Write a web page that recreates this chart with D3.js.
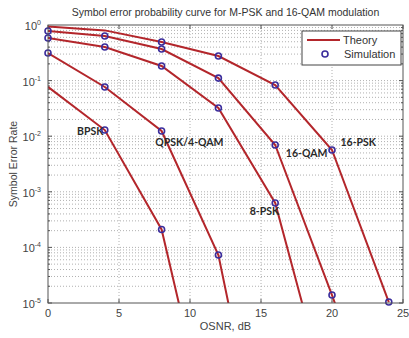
<!DOCTYPE html>
<html>
<head>
<meta charset="utf-8">
<script src="https://cdn.jsdelivr.net/npm/d3@7"></script>
<style>
  body { margin: 0; background: #fff; }
  text { font-family: "Liberation Sans", Arial, sans-serif; }
</style>
</head>
<body>
<script>
// values
const snr = [0, 4, 8, 12, 16, 20, 24];

const curveNames = ["BPSK", "QPSK/4-QAM", "8-PSK", "16-QAM", "16-PSK"];

const theoryBPSK  = [0.077, 0.0129, 2.1e-4, 9e-9];
const theoryQPSK  = [0.313, 0.0767, 0.0124, 7.3e-5, 8.5e-10];
const theory8PSK  = [0.583, 0.402, 0.183, 0.0321, 6.3e-4, 1e-7];
const theory16QAM = [0.78, 0.634, 0.37, 0.111, 6.95e-3, 1.39e-5, 1.8e-8];
const theory16PSK = [0.94, 0.80, 0.495, 0.277, 0.0833, 5.65e-3, 1.04e-5];

const simBPSK  = [null, 0.0129, 2.1e-4];
const simQPSK  = [0.313, 0.0767, 0.0124, 7.3e-5];
const sim8PSK  = [0.583, 0.402, 0.183, 0.0321, 6.3e-4];
const sim16QAM = [0.78, 0.634, 0.37, 0.111, 6.95e-3, 1.39e-5];
const sim16PSK = [null, null, 0.495, 0.277, 0.0833, 5.65e-3, 1.04e-5];

const xTicks = [0, 5, 10, 15, 20, 25];
const yExponents = [0, -1, -2, -3, -4, -5];

// label anchors (SNR dB, SER) for the curve names
const labelPos = [[2.05, 0.0107], [7.55, 0.0066], [14.2, 3.8e-4], [16.75, 4.3e-3], [20.6, 6.7e-3]];

const margin = { top: 25, right: 6, bottom: 35, left: 48 },
      width = 409 - margin.left - margin.right,
      height = 338 - margin.top - margin.bottom;

const red = "#b3262b", blue = "#3b2d9c", gridColor = "#b0b0b0", axisColor = "#555";

let svg = d3.select("body").append("svg")
    .attr("width", 409)
    .attr("height", 338);

let g = svg.append("g")
    .attr("transform", `translate(${margin.left}, ${margin.top})`);

let xScale = d3.scaleLinear().domain([0, 25]).range([0, width]);
let yScale = d3.scaleLog().domain([1e-5, 1]).range([height, 0]);

g.append("clipPath").attr("id", "clip")
  .append("rect").attr("width", width).attr("height", height);

// grid: horizontal at every log tick, vertical at major ticks
let yGridVals = [];
for (let e = -5; e < 0; e++) {
    for (let m = 1; m < 10; m++) yGridVals.push(m * Math.pow(10, e));
}
g.append("g").selectAll("line")
    .data(yGridVals.filter(v => v > 1e-5))
    .enter().append("line")
    .attr("x1", 0).attr("x2", width)
    .attr("y1", d => yScale(d)).attr("y2", d => yScale(d))
    .attr("stroke", gridColor)
    .attr("stroke-width", 1)
    .attr("stroke-dasharray", "1,2");

g.append("g").selectAll("line")
    .data(xTicks.slice(1, -1))
    .enter().append("line")
    .attr("x1", d => xScale(d)).attr("x2", d => xScale(d))
    .attr("y1", 0).attr("y2", height)
    .attr("stroke", gridColor)
    .attr("stroke-width", 1)
    .attr("stroke-dasharray", "1,2");

// ticks, pointing inward
let ticks = g.append("g").attr("stroke", axisColor).attr("stroke-width", 1);
xTicks.forEach(t => {
    ticks.append("line").attr("x1", xScale(t)).attr("x2", xScale(t)).attr("y1", height).attr("y2", height - 4);
    ticks.append("line").attr("x1", xScale(t)).attr("x2", xScale(t)).attr("y1", 0).attr("y2", 4);
});
yGridVals.forEach(v => {
    let len = (Math.log10(v) % 1 === 0) ? 4 : 2;
    ticks.append("line").attr("x1", 0).attr("x2", len).attr("y1", yScale(v)).attr("y2", yScale(v));
    ticks.append("line").attr("x1", width).attr("x2", width - len).attr("y1", yScale(v)).attr("y2", yScale(v));
});

// curves
const theory = [theoryBPSK, theoryQPSK, theory8PSK, theory16QAM, theory16PSK];
const sims = [simBPSK, simQPSK, sim8PSK, sim16QAM, sim16PSK];

let line = d3.line()
    .x((d, i) => xScale(snr[i]))
    .y(d => yScale(d));

g.append("g").attr("clip-path", "url(#clip)")
  .selectAll("path")
    .data(theory)
    .enter().append("path")
    .attr("d", d => line(d))
    .attr("fill", "none")
    .attr("stroke", red)
    .attr("stroke-width", 2);

sims.forEach(s => {
    g.append("g").selectAll("circle")
        .data(s.map((v, i) => ({ x: snr[i], v: v })).filter(d => d.v !== null))
        .enter().append("circle")
        .attr("cx", d => xScale(d.x))
        .attr("cy", d => yScale(d.v))
        .attr("r", 3)
        .attr("fill", "none")
        .attr("stroke", blue)
        .attr("stroke-width", 1.6);
});

// curve names
g.append("g").selectAll("text")
    .data(curveNames)
    .enter().append("text")
    .attr("x", (d, i) => xScale(labelPos[i][0]))
    .attr("y", (d, i) => yScale(labelPos[i][1]))
    .style("font-family", "Lato, 'Liberation Sans', sans-serif")
    .style("font-weight", "bold")
    .style("font-size", "10.5px")
    .attr("fill", "#2a2a2a")
    .text(d => d);

// axes box
g.append("rect")
    .attr("width", width).attr("height", height)
    .attr("fill", "none")
    .attr("stroke", axisColor)
    .attr("stroke-width", 1);

// tick labels
g.append("g").selectAll("text")
    .data(xTicks)
    .enter().append("text")
    .attr("x", d => xScale(d))
    .attr("y", height + 14)
    .attr("text-anchor", "middle")
    .style("font-size", "11px")
    .attr("fill", "#444")
    .text(d => d);

let yl = g.append("g").selectAll("text")
    .data(yExponents)
    .enter().append("text")
    .attr("x", -7)
    .attr("y", d => yScale(Math.pow(10, d)) + 5)
    .attr("text-anchor", "end")
    .style("font-size", "11px")
    .attr("fill", "#444");
yl.append("tspan").text("10");
yl.append("tspan").attr("dy", -5).style("font-size", "7px").text(d => d);

// legend
let legend = g.append("g").attr("transform", `translate(${width - 101}, 6)`);
legend.append("rect")
    .attr("width", 99).attr("height", 34)
    .attr("fill", "#fff")
    .attr("stroke", "#444")
    .attr("stroke-width", 1);
legend.append("line")
    .attr("x1", 5).attr("x2", 38).attr("y1", 9).attr("y2", 9)
    .attr("stroke", red).attr("stroke-width", 2);
legend.append("text").attr("x", 41).attr("y", 13).style("font-size", "11px").attr("fill", "#333").text("Theory");
legend.append("circle").attr("cx", 23).attr("cy", 23).attr("r", 3)
    .attr("fill", "none").attr("stroke", blue).attr("stroke-width", 1.6);
legend.append("text").attr("x", 42).attr("y", 27).style("font-size", "11px").attr("fill", "#333").text("Simulation");

// titles
svg.append("text")
    .attr("x", margin.left + width / 2)
    .attr("y", 16)
    .attr("text-anchor", "middle")
    .style("font-size", "10.5px")
    .attr("fill", "#333")
    .text("Symbol error probability curve for M-PSK and 16-QAM modulation");

svg.append("text")
    .attr("x", margin.left + width / 2)
    .attr("y", 330)
    .attr("text-anchor", "middle")
    .style("font-size", "11px")
    .attr("fill", "#444")
    .text("OSNR, dB");

svg.append("text")
    .attr("transform", `translate(17, ${margin.top + height / 2}) rotate(-90)`)
    .attr("text-anchor", "middle")
    .style("font-size", "10.5px")
    .attr("fill", "#444")
    .text("Symbol Error Rate");
</script>
</body>
</html>
